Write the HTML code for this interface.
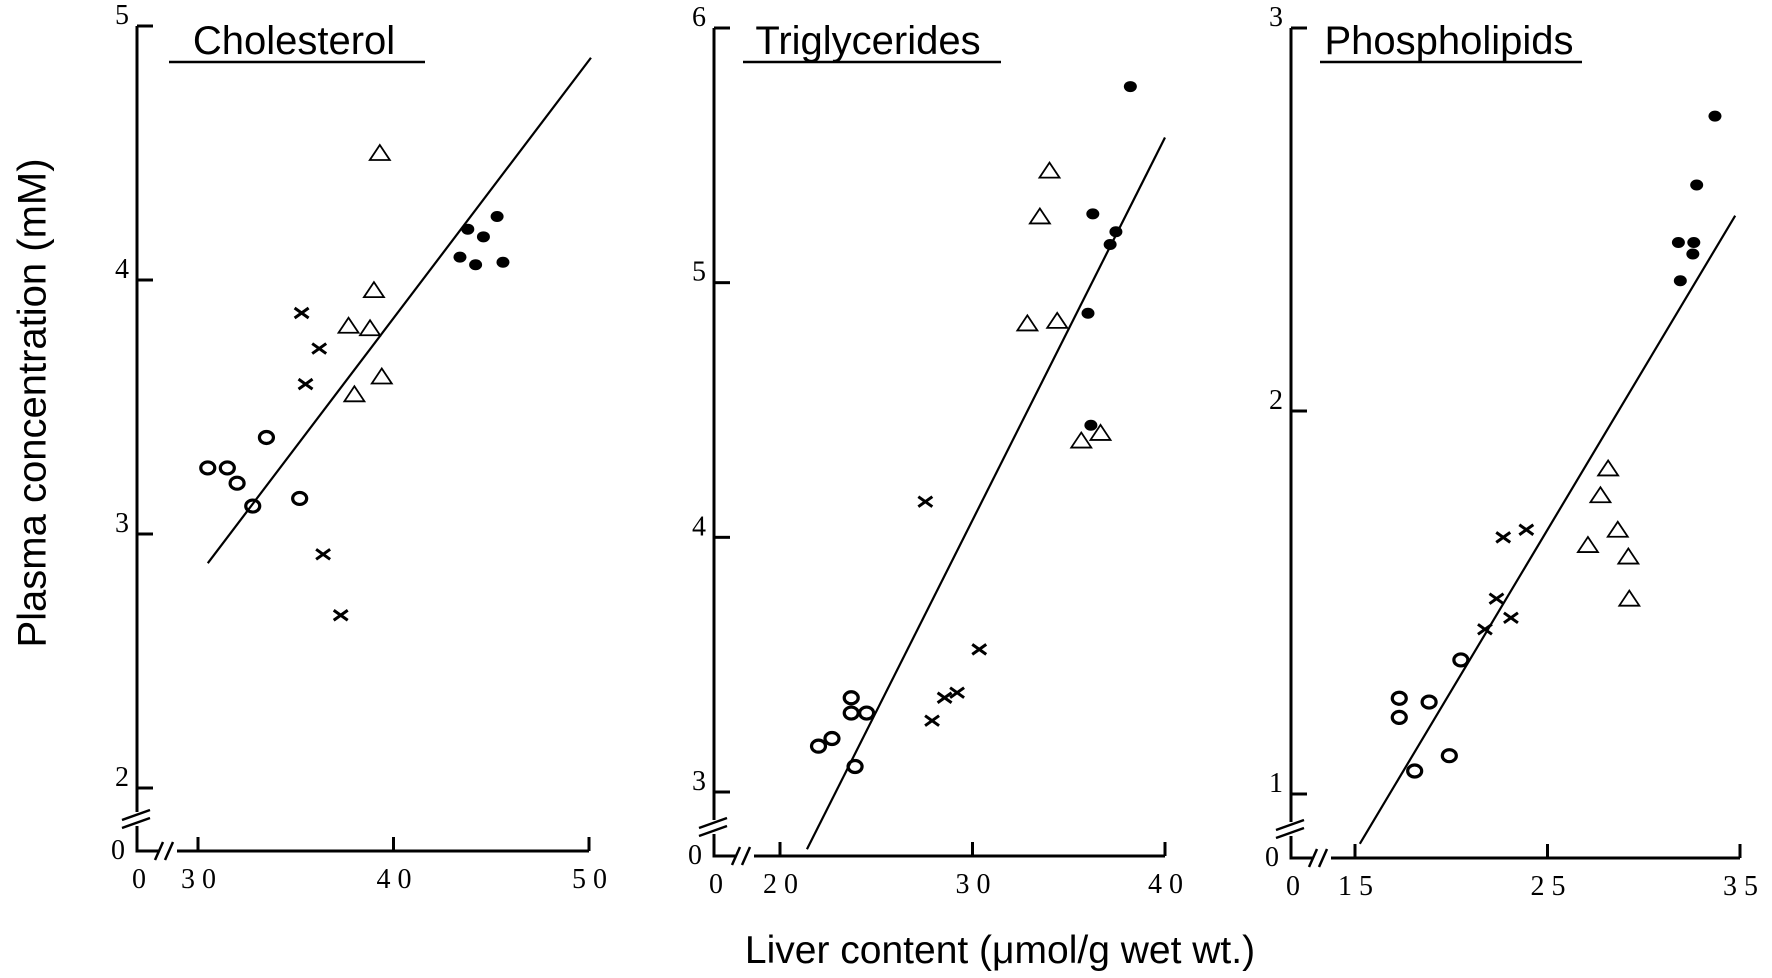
<!DOCTYPE html>
<html><head><meta charset="utf-8">
<style>
html,body{margin:0;padding:0;background:#fff;}
svg{display:block;}
text{fill:#000;}
.tick{font-family:"Liberation Serif",serif;font-size:28px;letter-spacing:7px;}
.ytick{font-family:"Liberation Serif",serif;font-size:28px;}
.title{font-family:"Liberation Sans",sans-serif;font-size:40px;}
.axt{font-family:"Liberation Sans",sans-serif;font-size:39px;}
.axty{font-family:"Liberation Sans",sans-serif;font-size:40px;}
</style></head>
<body>
<svg id="chart" width="1772" height="978" viewBox="0 0 1772 978">
<text class="axty" transform="translate(35,403) rotate(-90)" text-anchor="middle" dominant-baseline="middle">Plasma concentration (mM)</text>
<text class="axt" x="1000" y="963" text-anchor="middle">Liver content (μmol/g wet wt.)</text>
</svg>
<script>
// Cholesterol panel data
const cholTitle = "Cholesterol";
const cholXTicks = [30, 40, 50];
const cholYTicks = [2, 3, 4, 5];
const cholCircleX = [30.5, 31.5, 32.0, 32.8, 33.5, 35.2];
const cholCircleY = [3.26, 3.26, 3.20, 3.11, 3.38, 3.14];
const cholCrossX = [35.3, 36.2, 35.5, 36.4, 37.3];
const cholCrossY = [3.87, 3.73, 3.59, 2.92, 2.68];
const cholTriX = [39.3, 39.0, 37.7, 38.8, 38.0, 39.4];
const cholTriY = [4.50, 3.96, 3.82, 3.81, 3.55, 3.62];
const cholDotX = [43.8, 45.3, 44.6, 43.4, 44.2, 45.6];
const cholDotY = [4.20, 4.25, 4.17, 4.09, 4.06, 4.07];
const cholLineX = [30.5, 50.1];
const cholLineY = [2.885, 4.875];

// Triglycerides panel data
const trigTitle = "Triglycerides";
const trigXTicks = [20, 30, 40];
const trigYTicks = [3, 4, 5, 6];
const trigCircleX = [22.0, 22.7, 23.7, 23.7, 24.5, 23.9];
const trigCircleY = [3.18, 3.21, 3.37, 3.31, 3.31, 3.10];
const trigCrossX = [27.55, 27.9, 28.55, 29.2, 30.35];
const trigCrossY = [4.14, 3.28, 3.37, 3.39, 3.56];
const trigTriX = [34.0, 33.5, 32.85, 34.4, 35.65, 36.65];
const trigTriY = [5.44, 5.26, 4.84, 4.85, 4.38, 4.41];
const trigDotX = [38.2, 36.25, 37.45, 37.15, 36.0, 36.15];
const trigDotY = [5.77, 5.27, 5.20, 5.15, 4.88, 4.44];
const trigLineX = [21.4, 40.0];
const trigLineY = [2.775, 5.57];

// Phospholipids panel data
const phosTitle = "Phospholipids";
const phosXTicks = [15, 25, 35];
const phosYTicks = [1, 2, 3];
const phosCircleX = [17.3, 17.3, 18.85, 18.1, 19.9, 20.5];
const phosCircleY = [1.25, 1.20, 1.24, 1.06, 1.10, 1.35];
const phosCrossX = [22.7, 23.9, 22.35, 21.75, 23.1];
const phosCrossY = [1.67, 1.69, 1.51, 1.43, 1.46];
const phosTriX = [28.15, 27.75, 28.65, 27.1, 29.2, 29.25];
const phosTriY = [1.85, 1.78, 1.69, 1.65, 1.62, 1.51];
const phosDotX = [33.7, 32.75, 31.8, 32.6, 32.55, 31.9];
const phosDotY = [2.77, 2.59, 2.44, 2.44, 2.41, 2.34];
const phosLineX = [15.25, 34.75];
const phosLineY = [0.87, 2.51];

const NS = "http://www.w3.org/2000/svg";
const svg = document.getElementById('chart');
function mk(tag, attrs, parent) {
  const e = document.createElementNS(NS, tag);
  for (const k in attrs) e.setAttribute(k, attrs[k]);
  (parent || svg).appendChild(e);
  return e;
}

function panel(key, title, xTicks, yTicks, geo, cX, cY, xX, xY, tX, tY, dX, dY, lX, lY) {
  const g = mk('g', {});
  
  
  const x0 = xTicks[0], x1 = xTicks[xTicks.length - 1];
  const y0 = yTicks[0], y1 = yTicks[yTicks.length - 1];
  const sx = v => geo.px0 + (v - x0) / (x1 - x0) * (geo.px1 - geo.px0);
  const sy = v => geo.py0 + (v - y0) / (y1 - y0) * (geo.py1 - geo.py0);
  const st = {stroke: '#000', 'stroke-width': 3, fill: 'none'};
  const ya = mk('path', Object.assign({d: `M${geo.ax},${sy(y1)} L${geo.ax},${geo.brk} M${geo.ax},${geo.brk + 14} L${geo.ax},${geo.axY} L${geo.ax + 22},${geo.axY} M${geo.ax + 40},${geo.axY} L${sx(x1)},${geo.axY}`}, st), g);
  
  
  const br = mk('path', Object.assign({d: `M${geo.ax - 15},${geo.brk + 8} L${geo.ax + 13},${geo.brk - 2} M${geo.ax - 15},${geo.brk + 16} L${geo.ax + 13},${geo.brk + 6} M${geo.ax + 18},${geo.axY + 9} L${geo.ax + 26},${geo.axY - 9} M${geo.ax + 28},${geo.axY + 9} L${geo.ax + 36},${geo.axY - 9}`}, Object.assign({}, st, {'stroke-width': 2.5})), g);
  
  
  for (const v of yTicks) {
    const t = mk('line', Object.assign({x1: geo.ax, x2: geo.ax + 16, y1: sy(v), y2: sy(v)}, st), g);
    
    
    const l = mk('text', {x: geo.ax - 8, y: sy(v) - 2, 'text-anchor': 'end', class: 'ytick'}, g);
    
    
    l.textContent = v;
  }
  for (const v of xTicks) {
    const t = mk('line', Object.assign({x1: sx(v), x2: sx(v), y1: geo.axY, y2: geo.axY - 14}, st), g);
    
    
    const l = mk('text', {x: sx(v) + 4, y: geo.axY + 37, 'text-anchor': 'middle', class: 'tick'}, g);
    
    
    l.textContent = v;
  }
  const z1 = mk('text', {x: geo.ax - 12, y: geo.axY + 8, 'text-anchor': 'end', class: 'ytick'}, g);
  
  
  z1.textContent = '0';
  const z2 = mk('text', {x: geo.ax + 2, y: geo.axY + 37, 'text-anchor': 'middle', class: 'ytick'}, g);
  
  
  z2.textContent = '0';
  const tt = mk('text', {x: geo.tc, y: 54, 'text-anchor': 'middle', class: 'title'}, g);
  
  
  tt.textContent = title;
  const ul = mk('line', {x1: geo.ul0, x2: geo.ul1, y1: 62, y2: 62, stroke: '#000', 'stroke-width': 2.5}, g);
  
  
  const rl = mk('line', {x1: sx(lX[0]), y1: sy(lY[0]), x2: sx(lX[1]), y2: sy(lY[1]), stroke: '#000', 'stroke-width': 2.2}, g);
  
  
  for (let i = 0; i < cX.length; i++) {
    const m = mk('ellipse', {cx: sx(cX[i]), cy: sy(cY[i]), rx: 7, ry: 6, fill: 'none', stroke: '#000', 'stroke-width': 3.2}, g);
    
    
  }
  for (let i = 0; i < xX.length; i++) {
    const x = sx(xX[i]), y = sy(xY[i]);
    const m = mk('path', {d: `M${x-7},${y-5} L${x+7},${y+5} M${x-7},${y+5} L${x+7},${y-5}`, stroke: '#000', 'stroke-width': 3}, g);
    
    
  }
  for (let i = 0; i < tX.length; i++) {
    const x = sx(tX[i]), y = sy(tY[i]);
    const m = mk('path', {d: `M${x},${y-8} L${x+10},${y+7} L${x-10},${y+7} Z`, fill: 'none', stroke: '#000', 'stroke-width': 1.8}, g);
    
    
  }
  for (let i = 0; i < dX.length; i++) {
    const m = mk('ellipse', {cx: sx(dX[i]), cy: sy(dY[i]), rx: 6.5, ry: 5.5, fill: '#000'}, g);
    
    
  }
}

panel('cholesterol', cholTitle, cholXTicks, cholYTicks,
  {px0: 198, px1: 589, py0: 788, py1: 26, ax: 137, axY: 851, brk: 812, tc: 294, ul0: 169, ul1: 425},
  cholCircleX, cholCircleY, cholCrossX, cholCrossY, cholTriX, cholTriY, cholDotX, cholDotY, cholLineX, cholLineY);
panel('triglycerides', trigTitle, trigXTicks, trigYTicks,
  {px0: 780, px1: 1165, py0: 792, py1: 28, ax: 714, axY: 856, brk: 820, tc: 868, ul0: 743, ul1: 1001},
  trigCircleX, trigCircleY, trigCrossX, trigCrossY, trigTriX, trigTriY, trigDotX, trigDotY, trigLineX, trigLineY);
panel('phospholipids', phosTitle, phosXTicks, phosYTicks,
  {px0: 1355, px1: 1740, py0: 794, py1: 28, ax: 1291, axY: 858, brk: 822, tc: 1449, ul0: 1320, ul1: 1582},
  phosCircleX, phosCircleY, phosCrossX, phosCrossY, phosTriX, phosTriY, phosDotX, phosDotY, phosLineX, phosLineY);
</script>
</body></html>
